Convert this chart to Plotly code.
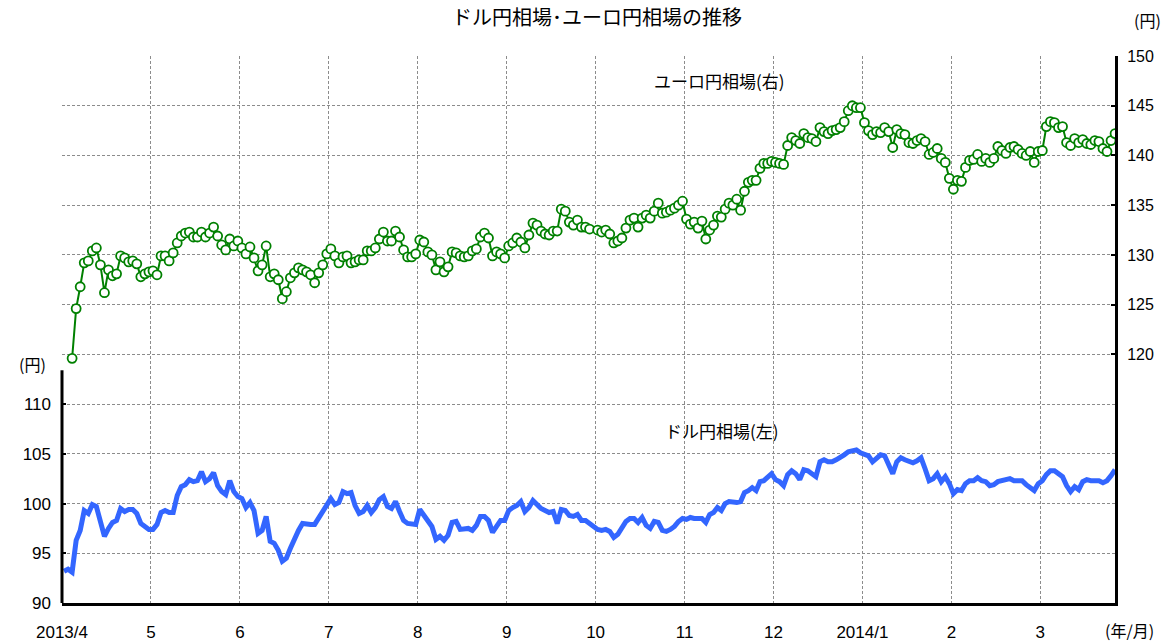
import plotly.graph_objects as go

month_labels = ['2013/4', '5', '6', '7', '8', '9', '10', '11', '12', '2014/1', '2', '3']
days_per_month = [22, 22, 22, 22, 22, 21, 22, 23, 22, 22, 22, 19]

# ドル円 (left axis)
usd_jpy = [
    93.2, 93.4, 93.1, 96.3, 97.3, 99.3, 99.0, 99.9, 99.7, 98.3, 96.7, 97.5, 98.1, 98.3, 99.5, 99.2, 99.4, 99.4, 99.0, 98.0, 97.7, 97.4,
    97.4, 97.9, 99.1, 99.3, 99.1, 99.1, 100.8, 101.7, 101.9, 102.4, 102.2, 102.3, 103.2, 102.2, 102.5, 103.1, 101.8, 101.2, 100.9, 102.3, 101.2, 100.7,
    100.5, 99.6, 100.1, 99.3, 97.0, 97.3, 98.7, 96.2, 96.0, 95.3, 94.2, 94.5, 95.5, 96.5, 97.3, 98.0, 97.9, 97.9, 97.9, 98.6, 99.3, 99.8,
    100.5, 99.9, 100.1, 101.2, 101.0, 101.1, 99.8, 99.0, 99.2, 99.8, 99.1, 99.6, 100.4, 100.7, 99.7, 99.5, 100.2, 99.2, 98.3, 98.0, 98.0, 97.9,
    99.4, 98.8, 98.3, 97.7, 96.4, 96.7, 96.3, 96.8, 98.1, 98.2, 97.4, 97.5, 97.5, 97.3, 97.8, 98.7, 98.7, 98.3, 97.1, 97.7, 98.3, 98.3,
    99.3, 99.6, 99.8, 100.2, 99.2, 99.6, 100.3, 99.9, 99.5, 99.3, 99.1, 99.2, 98.0, 99.4, 99.3, 98.8, 98.7, 98.9, 98.3, 98.3, 98.0,
    97.4, 97.3, 97.4, 97.2, 96.6, 96.9, 97.5, 98.2, 98.5, 98.5, 98.1, 98.6, 97.8, 97.5, 98.2, 98.1, 97.3, 97.2, 97.4, 97.7, 98.2, 98.5,
    98.4, 98.6, 98.5, 98.5, 98.5, 98.1, 98.9, 99.1, 99.6, 99.3, 100.0, 100.2, 100.1, 100.1, 100.2, 101.1, 101.3, 101.6, 101.3, 102.2, 102.3, 102.6, 103.0,
    102.4, 102.2, 101.8, 102.9, 103.3, 103.0, 102.4, 103.4, 103.3, 103.0, 102.7, 104.2, 104.4, 104.2, 104.2, 104.4, 104.6, 104.9, 105.2, 105.3, 105.4, 105.1,
    104.9, 104.8, 104.2, 104.6, 104.9, 104.8, 104.0, 103.0, 104.2, 104.6, 104.4, 104.2, 104.1, 104.3, 104.6, 103.5, 102.3, 102.5, 103.0, 102.2, 102.7, 102.0,
    101.0, 101.4, 101.3, 102.0, 102.3, 102.3, 102.6, 102.3, 102.2, 101.8, 101.9, 102.2, 102.3, 102.3, 102.5, 102.3, 102.3, 102.3, 101.9, 101.6, 101.3, 102.0,
    102.3, 102.9, 103.3, 103.3, 103.0, 102.7, 101.8, 101.2, 101.7, 101.4, 102.2, 102.4, 102.3, 102.3, 102.3, 102.1, 102.3, 102.8, 103.4,
]

# ユーロ円 (right axis) - no quotes for the first two days
eur_jpy = [
    None, None, 119.6, 124.6, 126.8, 129.2, 129.4, 130.4, 130.7, 129.0, 126.2, 128.5, 127.9, 128.1, 129.9, 129.7, 129.3, 129.4, 129.1, 127.8, 128.1, 128.3,
    128.4, 128.0, 129.9, 129.9, 129.4, 130.2, 131.2, 131.9, 132.2, 132.3, 131.8, 131.8, 132.3, 131.8, 132.2, 132.8, 131.9, 131.0, 130.5, 131.6, 130.9, 131.4,
    130.7, 130.1, 130.8, 129.7, 128.4, 129.0, 130.9, 127.8, 128.1, 127.5, 125.6, 126.3, 127.7, 128.2, 128.7, 128.5, 128.3, 128.0, 127.2, 128.2, 129.0, 130.1,
    130.6, 129.9, 129.2, 129.8, 129.9, 129.2, 129.3, 129.5, 129.5, 130.4, 130.4, 130.7, 131.6, 132.3, 131.4, 131.4, 132.4, 131.8, 130.5, 129.8, 129.8, 130.1,
    131.5, 131.3, 130.3, 130.0, 128.5, 129.3, 128.3, 128.8, 130.3, 130.2, 129.9, 129.8, 129.9, 130.4, 130.6, 131.8, 132.2, 131.7, 129.9, 130.3, 130.1, 129.7,
    130.9, 131.2, 131.7, 131.3, 130.7, 132.0, 133.2, 133.0, 132.4, 132.1, 132.0, 132.4, 132.4, 134.6, 134.4, 133.3, 133.0, 133.5, 132.8, 132.8, 132.6,
    132.5, 132.3, 132.5, 132.1, 131.2, 131.4, 131.7, 132.7, 133.5, 133.7, 132.8, 133.7, 134.0, 133.7, 134.4, 135.2, 134.2, 134.3, 134.5, 134.7, 135.0, 135.4,
    133.6, 133.1, 133.3, 132.7, 133.4, 131.6, 132.5, 133.0, 133.9, 133.8, 134.6, 135.2, 135.0, 135.6, 134.5, 136.4, 137.3, 137.5, 137.5, 138.7, 139.2, 139.2, 139.4,
    139.3, 139.2, 139.1, 141.0, 141.8, 141.5, 141.2, 142.2, 141.8, 141.7, 141.4, 142.8, 142.4, 142.2, 142.5, 142.6, 142.8, 143.4, 144.5, 145.0, 144.8, 144.8,
    143.3, 142.5, 142.1, 142.4, 142.3, 142.8, 142.4, 140.8, 142.6, 142.2, 142.1, 141.3, 141.2, 141.5, 141.7, 141.4, 140.1, 140.3, 140.7, 139.7, 139.3, 137.7,
    136.6, 137.5, 137.4, 138.8, 139.5, 139.6, 140.1, 139.4, 139.7, 139.3, 139.7, 140.9, 140.5, 140.2, 140.8, 140.9, 140.6, 140.2, 140.0, 140.4, 139.3, 140.4,
    140.5, 142.9, 143.4, 143.3, 142.8, 142.9, 141.3, 141.0, 141.7, 141.3, 141.6, 141.2, 141.1, 141.5, 141.4, 140.7, 140.4, 141.5, 142.2,
]


def day_positions(counts, slots=22):
    # spread each month's trading days evenly between its gridlines
    xs = []
    for m, n in enumerate(counts):
        width = max(n, slots)
        xs += [m + (j + 0.5) / width for j in range(n)]
    return xs


x_days = day_positions(days_per_month)
assert len(x_days) == len(usd_jpy) == len(eur_jpy)

GRID = '#8c8c8c'
JP_FONT = 'Noto Sans CJK JP'
NUM_FONT = 'Liberation Sans'

fig = go.Figure()
fig.add_trace(go.Scatter(x=x_days, y=eur_jpy, yaxis='y2', mode='lines+markers',
                         line=dict(color='#008000', width=2),
                         marker=dict(symbol='circle', size=9, color='white',
                                     line=dict(color='#008000', width=1.8)),
                         showlegend=False))
fig.add_trace(go.Scatter(x=x_days, y=usd_jpy, yaxis='y', mode='lines',
                         line=dict(color='#3366ff', width=5),
                         showlegend=False))

fig.update_layout(
    width=1167, height=641,
    margin=dict(l=62, r=52, t=56, b=38),
    paper_bgcolor='white', plot_bgcolor='rgba(0,0,0,0)',
    xaxis=dict(range=[0, 11.84], tickvals=list(range(12)), ticktext=month_labels,
               showgrid=True, gridcolor=GRID, griddash='3px,2px', gridwidth=1,
               showline=True, linecolor='black', linewidth=3, ticks='',
               ticklabelstandoff=12, zeroline=False, automargin=False,
               tickfont=dict(family=NUM_FONT, size=17, color='black')),
    yaxis=dict(range=[90, 145], tickvals=[90, 95, 100, 105, 110],
               showgrid=True, gridcolor=GRID, griddash='3px,2px', gridwidth=1,
               showline=False, ticks='inside', ticklen=4, tickwidth=2, tickcolor='black',
               ticklabelstandoff=10, zeroline=False, automargin=False,
               tickfont=dict(family=NUM_FONT, size=17, color='black')),
    yaxis2=dict(range=[95, 150], tickvals=[120, 125, 130, 135, 140, 145, 150],
                overlaying='y', side='right',
                showgrid=True, gridcolor=GRID, griddash='3px,2px', gridwidth=1,
                showline=True, linecolor='black', linewidth=3,
                ticks='inside', ticklen=4, tickwidth=2, tickcolor='black',
                ticklabelstandoff=6, zeroline=False, automargin=False,
                tickfont=dict(family=NUM_FONT, size=16, color='black')),
)

# left axis line only spans the dollar part of the chart
fig.add_shape(type='line', xref='paper', yref='y', x0=0, x1=0, y0=89.5, y1=113.4,
              line=dict(color='black', width=3))

notes = [
    ('ドル円相場･ユーロ円相場の推移', 0.508, 1.0713, 20),
    ('(円)', 1.031, 1.066, 16),
    ('ユーロ円相場(右)', 0.624, 0.956, 17),
    ('ドル円相場(左)', 0.627, 0.316, 17),
    ('(円)', -0.028, 0.437, 16),
    ('(年/月)', 1.014, -0.049, 16),
]
for text, x, y, size in notes:
    fig.add_annotation(text=text, x=x, y=y, xref='paper', yref='paper',
                       xanchor='center', yanchor='middle', showarrow=False,
                       font=dict(family=JP_FONT, size=size, color='black'))

# page body margin would otherwise offset the fixed-size figure
fig.write_html('out.html', config={'displayModeBar': False},
               post_script="document.body.style.margin='0';")
